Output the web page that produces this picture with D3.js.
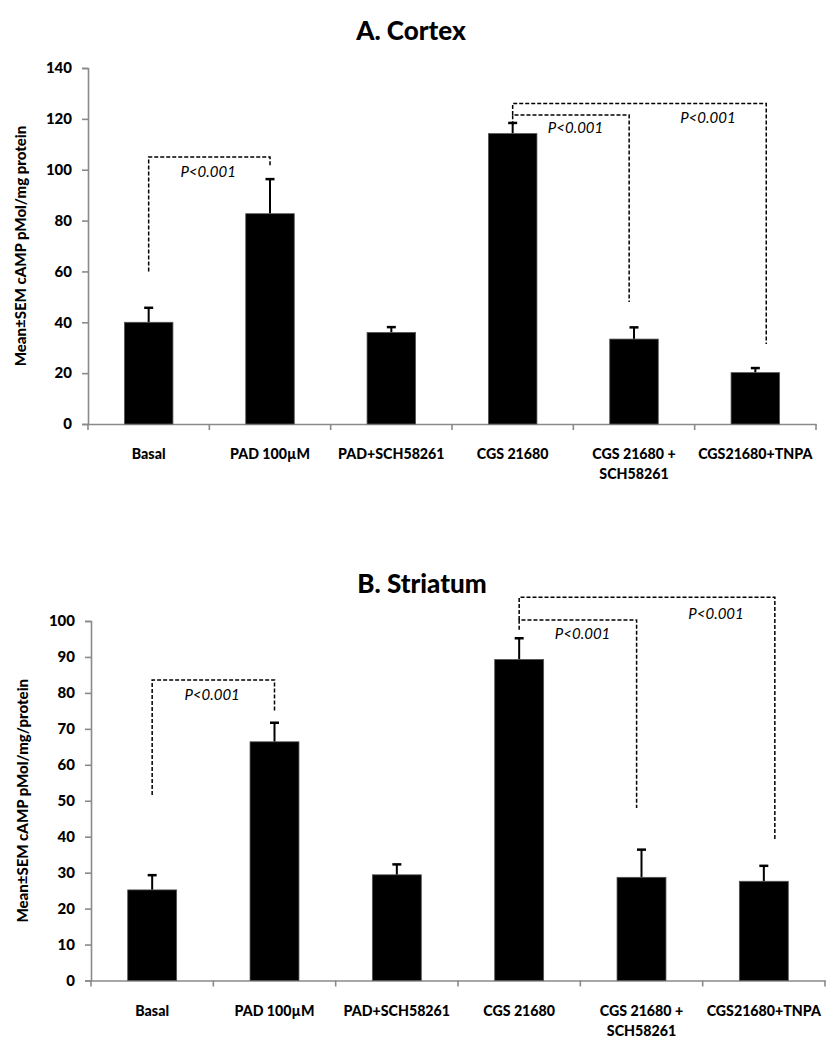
<!DOCTYPE html>
<html><head><meta charset="utf-8">
<script src="https://cdn.jsdelivr.net/npm/d3@7"></script>
<style>body{margin:0;background:#fff}svg{display:block}</style>
</head><body>
<script>
// ---- data ----
const categories = ["Basal","PAD 100µM","PAD+SCH58261","CGS 21680","CGS 21680 +\nSCH58261","CGS21680+TNPA"];
const cortexMean = [40, 82.7, 36, 114.2, 33.4, 20.2];
const cortexErr  = [5.7, 13.6, 2.1, 4.2, 4.6, 1.8];
const striatumMean = [25.2, 66.4, 29.4, 89.3, 28.7, 27.6];
const striatumErr  = [4.1, 5.3, 2.9, 5.9, 7.7, 4.3];
const cortexTicks = [0,20,40,60,80,100,120,140];
const striatumTicks = [0,10,20,30,40,50,60,70,80,90,100];
// significance brackets: from/to category index, bracket level, leg-end values, label
const cortexSig = [
  {from:0,to:1,level:105,fromEnd:60,toEnd:101.5,label:"P<0.001",labelAt:0.49,labelY:97},
  {from:3,to:4,level:121.5,fromEnd:117.5,toEnd:48,label:"P<0.001",labelAt:0.54,labelY:114.5},
  {from:3,to:5,level:126,fromEnd:121.5,toEnd:31.5,label:"P<0.001",labelAt:0.77,labelY:118.5}
];
const striatumSig = [
  {from:0,to:1,level:83.6,fromEnd:51.6,toEnd:74.8,label:"P<0.001",labelAt:0.49,labelY:78},
  {from:3,to:4,level:100.3,fromEnd:97.6,toEnd:48,label:"P<0.001",labelAt:0.54,labelY:95},
  {from:3,to:5,level:106.6,fromEnd:100.3,toEnd:39.1,label:"P<0.001",labelAt:0.77,labelY:100.5}
];

const W=838,H=1050;
const svg=d3.select("body").append("svg").attr("width",W).attr("height",H);
const FONT="Lato, 'DejaVu Sans', sans-serif";

function panel(cfg){
  const g=svg.append("g");
  const x=d3.scaleBand().domain(d3.range(categories.length)).range([cfg.x0,cfg.x1]).paddingInner(0.6).paddingOuter(0.3);
  const xb=d3.scaleBand().domain(d3.range(categories.length)).range([cfg.x0,cfg.x1]);
  const y=d3.scaleLinear().domain([0,cfg.max]).range([cfg.y0,cfg.y1]);
  // title
  g.append("text").attr("x",cfg.tx).attr("y",cfg.ty).attr("text-anchor","middle")
    .style("font-family",FONT).style("font-weight","900").style("font-size","26px").text(cfg.title);
  // y axis
  const ya=g.append("g").attr("transform",`translate(${cfg.x0},0)`)
    .call(d3.axisLeft(y).tickValues(cfg.ticks).tickSize(6).tickPadding(10));
  ya.select(".domain").attr("stroke","#8a8a8a").attr("stroke-width",1.6);
  ya.selectAll(".tick line").attr("stroke","#8a8a8a").attr("stroke-width",1.6);
  ya.selectAll(".tick text").style("font-family",FONT).style("font-weight","900").style("font-size","15px").attr("fill","#000");
  // x axis
  const xa=g.append("g").attr("transform",`translate(0,${cfg.y0})`)
    .call(d3.axisBottom(xb).tickSize(0).tickFormat(""));
  xa.select(".domain").attr("stroke","#8a8a8a").attr("stroke-width",1.6);
  g.append("g").selectAll("line").data(d3.range(categories.length+1)).join("line")
    .attr("x1",i=>cfg.x0+i*xb.step()).attr("x2",i=>cfg.x0+i*xb.step())
    .attr("y1",cfg.y0).attr("y2",cfg.y0+6).attr("stroke","#8a8a8a").attr("stroke-width",1.6);
  // x labels
  const lab=g.append("g").selectAll("text").data(categories).join("text")
    .attr("text-anchor","middle").attr("x",(d,i)=>xb(i)+xb.bandwidth()/2).attr("y",cfg.y0+35)
    .style("font-family",FONT).style("font-weight","900").style("font-size","14.2px");
  lab.each(function(d){
    const t=d3.select(this);
    d.split("\n").forEach((s,k)=>t.append("tspan").attr("x",t.attr("x")).attr("dy",k?20:0).text(s));
  });
  // y label
  g.append("text").attr("transform",`translate(${cfg.lx},${(cfg.y0+cfg.y1)/2}) rotate(-90)`)
    .attr("text-anchor","middle").style("font-family",FONT).style("font-weight","900").style("font-size","15px")
    .text(cfg.ylabel);
  // error bars (upper only)
  const eg=g.append("g");
  cfg.mean.forEach((m,i)=>{
    const cx=x(i)+x.bandwidth()/2;
    eg.append("line").attr("x1",cx).attr("x2",cx).attr("y1",y(m)).attr("y2",y(m+cfg.err[i])).attr("stroke","#000").attr("stroke-width",2);
    eg.append("line").attr("x1",cx-4.5).attr("x2",cx+4.5).attr("y1",y(m+cfg.err[i])).attr("y2",y(m+cfg.err[i])).attr("stroke","#000").attr("stroke-width",2.5);
  });
  // bars
  g.append("g").selectAll("rect").data(cfg.mean).join("rect")
    .attr("x",(d,i)=>x(i)).attr("width",x.bandwidth()).attr("y",d=>y(d)).attr("height",d=>y(0)-y(d))
    .attr("fill","#000").attr("stroke","#555").attr("stroke-width",0.8);
  // significance brackets
  const sg=g.append("g");
  const shift=[0,0,0,0,-0.04,0.09];
  cfg.sig.forEach(s=>{
    const xa_=xb(s.from)+xb.bandwidth()*(0.5+shift[s.from]);
    const xt_=xb(s.to)+xb.bandwidth()*(0.5+shift[s.to]);
    sg.append("path").attr("d",`M${xa_},${y(s.fromEnd)}V${y(s.level)}H${xt_}V${y(s.toEnd)}`)
      .attr("fill","none").attr("stroke","#000").attr("stroke-width",1.5).attr("stroke-dasharray","4,2");
    sg.append("text").attr("x",xa_+(xt_-xa_)*s.labelAt).attr("y",y(s.labelY)).attr("text-anchor","middle")
      .style("font-family",FONT).style("font-style","italic").style("font-size","15px").text(s.label);
  });
}

panel({title:"A. Cortex",tx:411,ty:40,x0:88,x1:816,y0:424,y1:68,max:140,ticks:cortexTicks,
  mean:cortexMean,err:cortexErr,sig:cortexSig,lx:26,ylabel:"Mean±SEM cAMP pMol/mg protein"});
panel({title:"B. Striatum",tx:422,ty:593,x0:91,x1:825,y0:980.5,y1:621,max:100,ticks:striatumTicks,
  mean:striatumMean,err:striatumErr,sig:striatumSig,lx:28,ylabel:"Mean±SEM cAMP pMol/mg/protein"});
</script>
</body></html>
